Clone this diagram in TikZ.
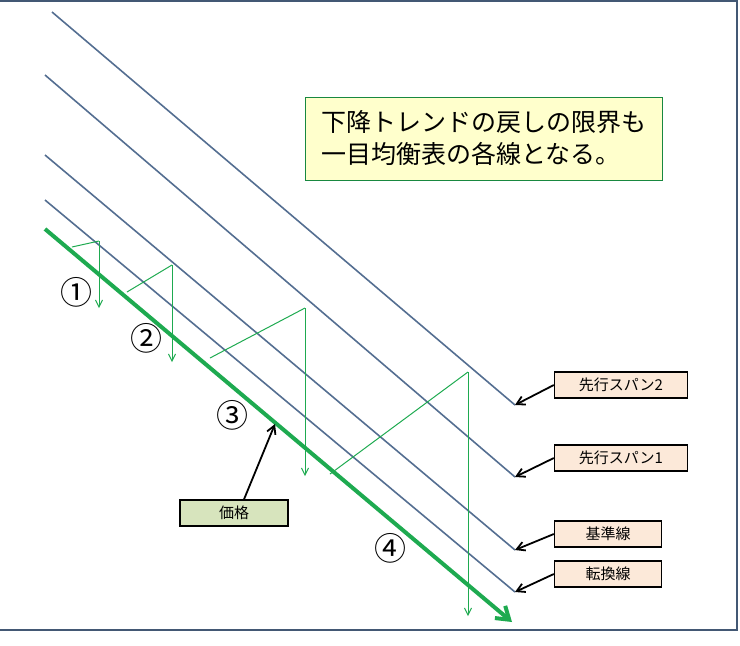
\documentclass[tikz,border=0pt]{standalone}
\usepackage{fontspec}
\setmainfont{Noto Sans CJK JP}
\usetikzlibrary{positioning}
\usetikzlibrary{arrows.meta}

\definecolor{lineblue}{RGB}{84,110,145}
\definecolor{pricegreen}{RGB}{30,170,80}
\definecolor{titlefill}{RGB}{255,255,204}
\definecolor{tagfill}{RGB}{252,233,217}
\definecolor{pricefill}{RGB}{215,228,189}

\tikzset{
  ichimoku/.style={lineblue, line width=1.6pt},
  swing/.style={pricegreen, line width=1pt},
  drop/.style={pricegreen, line width=1pt, -{Straight Barb[length=7pt,width=7pt]}},
  tagbox/.style={draw, line width=1.3pt, fill=tagfill, font=\fontsize{15}{17}\selectfont, minimum height=26pt, inner sep=3pt},
  pointer/.style={line width=1.8pt, -{Straight Barb[length=8pt,width=9pt]}},
  stepno/.style={font=\fontsize{32}{34}\selectfont}
}

\begin{document}
\begin{tikzpicture}[x=1pt, y=-1pt]
  \useasboundingbox (0,0) rectangle (740,646);
  \draw[lineblue!80!black, line width=2pt] (-2,1) -- (737,1) -- (737,630) -- (-2,630);

  % ichimoku lines
  \coordinate (s2a) at (52,12);   \coordinate (s2b) at (515,405);
  \coordinate (s1a) at (45,75);   \coordinate (s1b) at (515,477);
  \coordinate (kja) at (45,155);  \coordinate (kjb) at (515,550);
  \coordinate (tka) at (45,200);  \coordinate (tkb) at (515,592);
  \draw[ichimoku] (s2a) -- (s2b);
  \draw[ichimoku] (s1a) -- (s1b);
  \draw[ichimoku] (kja) -- (kjb);
  \draw[ichimoku] (tka) -- (tkb);

  % price
  \coordinate (pa) at (45,229);
  \coordinate (pb) at (512,622);
  \draw[pricegreen, line width=4pt, -{Straight Barb[length=12pt,width=16pt]}] (pa) -- (pb);

  % retracements
  \foreach \x/\y/\px/\py/\e in {72/247/99/241/308, 127/292/172/265/362, 210/358/305/308/476, 330/474/468/372/616} {
    \draw[swing] (\x,\y) -- (\px,\py);
    \draw[drop] (\px,\py) -- (\px,\e);
  }

  \node[stepno] (n1) at (76,292) {①};
  \node[stepno] (n2) at (146,338) {②};
  \node[stepno] (n3) at (232,415) {③};
  \node[stepno] (n4) at (390,548) {④};

  % title
  \node[draw=pricegreen!80!black, line width=1pt, fill=titlefill, font=\fontsize{25}{32}\selectfont, align=left, minimum width=357pt, minimum height=83pt] (title) at (483.5,138.5) {下降トレンドの戻しの限界も\\一目均衡表の各線となる。};

  % tags
  \node[tagbox, minimum width=133pt] (span2) at (621,385) {先行スパン2};
  \node[tagbox, minimum width=133pt] (span1) at (621,458) {先行スパン1};
  \node[tagbox, minimum width=107pt] (kijun) at (608,534) {基準線};
  \node[tagbox, minimum width=107pt] (tenkan) at (608,574) {転換線};
  \node[tagbox, fill=pricefill, minimum width=108pt] (price) at (234,513) {価格};

  \draw[pointer] (span2.west) -- (s2b);
  \draw[pointer] (span1.west) -- (s1b);
  \draw[pointer] (kijun.west) -- (kjb);
  \draw[pointer] (tenkan.west) -- (tkb);
  \coordinate (ptip) at (275,424);
  \draw[pointer] (price.north) ++(10,0) -- (ptip);
\end{tikzpicture}
\end{document}
